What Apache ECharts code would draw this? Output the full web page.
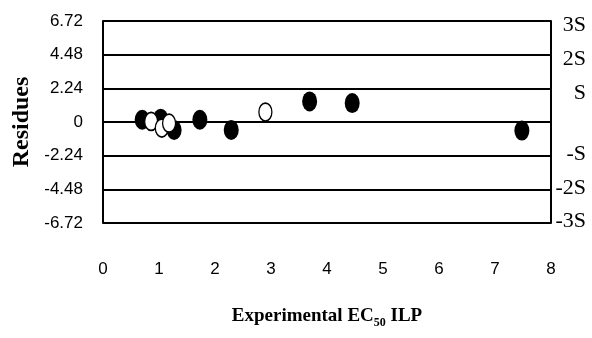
<!DOCTYPE html>
<html>
<head>
<meta charset="utf-8">
<script src="https://cdn.jsdelivr.net/npm/echarts@6/dist/echarts.min.js"></script>
<style>html,body{margin:0;padding:0;background:#fff}#c{width:592px;height:338px}</style>
</head>
<body>
<div id="c"></div>
<script>
// Filled markers (x, residue)
const filledX = [0.70, 1.03, 1.27, 1.73, 2.29, 3.69, 4.45, 7.48];
const filledY = [0.15, 0.22, -0.53, 0.15, -0.53, 1.37, 1.26, -0.57];
// Open markers (x, residue)
const openX = [0.86, 1.05, 1.18, 2.90];
const openY = [0.04, -0.40, -0.08, 0.66];
// Axis ticks
const xTicks = [0, 1, 2, 3, 4, 5, 6, 7, 8];
const yStep = 2.24;
const yTickLabels = ['-6.72', '-4.48', '-2.24', '0', '2.24', '4.48', '6.72'];
const sigmaLabels = ['-3S', '-2S', '-S', '', 'S', '2S', '3S'];

const chart = echarts.init(document.getElementById('c'));
const narrow = "'Liberation Sans Narrow', 'Arial Narrow', 'Liberation Sans', sans-serif";
const serif = "'Liberation Serif', 'Times New Roman', serif";

chart.setOption({
  animation: false,
  backgroundColor: '#fff',
  grid: { left: 103, right: 41, top: 21, bottom: 115 },
  xAxis: {
    type: 'value',
    min: xTicks[0], max: xTicks[xTicks.length - 1], interval: 1,
    axisLine: { show: false }, axisTick: { show: false }, splitLine: { show: false },
    axisLabel: { margin: 38, color: '#000', fontSize: 17, fontFamily: narrow },
    name: '{a|Experimental EC}{s|50}{a| ILP}',
    nameLocation: 'middle', nameGap: 80,
    nameTextStyle: {
      rich: {
        a: { fontSize: 19, fontWeight: 'bold', fontFamily: serif, color: '#000', lineHeight: 26 },
        s: { fontSize: 12, fontWeight: 'bold', fontFamily: serif, color: '#000', lineHeight: 12, verticalAlign: 'bottom' }
      }
    }
  },
  yAxis: [{
    type: 'value', min: -3 * yStep, max: 3 * yStep, interval: yStep,
    axisLine: { show: true, lineStyle: { color: '#000', width: 2 } },
    axisTick: { show: false },
    splitLine: { show: true, lineStyle: { color: '#000', width: 2 } },
    axisLabel: {
      margin: 20, color: '#000', fontSize: 17, fontFamily: narrow,
      formatter: v => yTickLabels[Math.round(v / yStep) + 3]
    },
    name: 'Residues', nameLocation: 'middle', nameGap: 67, nameRotate: 90,
    nameTextStyle: { fontSize: 24, fontWeight: 'bold', fontFamily: serif, color: '#000' }
  }, {
    type: 'value', position: 'right', min: -3 * yStep, max: 3 * yStep, interval: yStep,
    axisLine: { show: true, onZero: false, lineStyle: { color: '#000', width: 2 } },
    axisTick: { show: false }, splitLine: { show: false },
    axisLabel: {
      margin: 35, align: 'right', color: '#000', fontSize: 22, fontFamily: serif,
      formatter: v => {
        const i = Math.round(v / yStep) + 3;
        const t = sigmaLabels[i];
        if (!t) return '';
        return i > 3 ? '{p|' + t + '}' : '{n|' + t + '}';
      },
      rich: {
        p: { fontSize: 22, fontFamily: serif, color: '#000', padding: [9, 0, 0, 0] },
        n: { fontSize: 22, fontFamily: serif, color: '#000', padding: [0, 0, 3, 0] }
      }
    }
  }],
  series: [{
    type: 'scatter', yAxisIndex: 0, z: 2,
    data: filledX.map((x, i) => [x, filledY[i]]),
    symbol: 'circle', symbolSize: [15, 20],
    itemStyle: { color: '#000', opacity: 1 }
  }, {
    type: 'scatter', yAxisIndex: 0, z: 3,
    data: openX.map((x, i) => [x, openY[i]]),
    symbol: 'circle', symbolSize: [13, 18],
    itemStyle: { color: '#fff', borderColor: '#000', borderWidth: 1.5, opacity: 1 }
  }]
});
</script>
</body>
</html>
